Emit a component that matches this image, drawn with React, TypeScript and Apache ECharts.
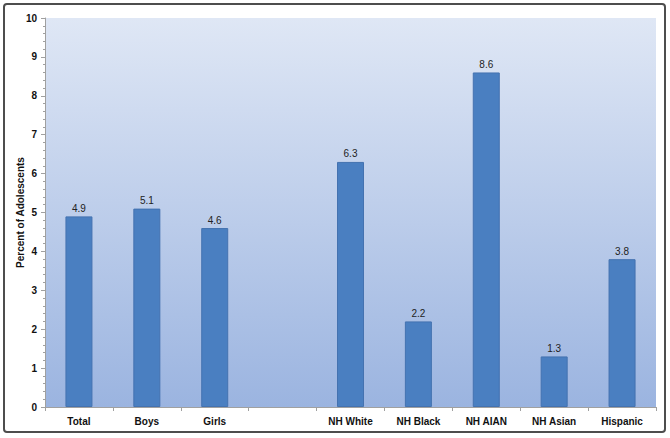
import React, { useEffect, useRef } from "react";
import * as echarts from "echarts";

const categories = ["Total", "Boys", "Girls", "", "NH White", "NH Black", "NH AIAN", "NH Asian", "Hispanic"];
const values: (number | null)[] = [4.9, 5.1, 4.6, null, 6.3, 2.2, 8.6, 1.3, 3.8];
const yTitle = "Percent of Adolescents";

export default function App() {
  const ref = useRef<HTMLDivElement>(null);
  useEffect(() => {
    document.body.style.margin = "0";
    const chart = echarts.init(ref.current!, undefined, { renderer: "svg" });
    chart.setOption({
      animation: false,
      backgroundColor: "#ffffff",
      graphic: [
        {
          type: "rect",
          shape: { x: 4, y: 4, width: 661, height: 428, r: 3 },
          style: { fill: "none", stroke: "#4d4d4d", lineWidth: 2 },
          z: 100,
        },
      ],
      grid: {
        left: 45,
        right: 14,
        top: 18,
        bottom: 31,
        show: true,
        borderWidth: 0,
        backgroundColor: new echarts.graphic.LinearGradient(0, 0, 0, 1, [
          { offset: 0, color: "#dfe7f5" },
          { offset: 1, color: "#9bb4e0" },
        ]),
      },
      xAxis: {
        type: "category",
        data: categories,
        axisLine: { lineStyle: { color: "#a0a0a0" } },
        axisTick: { show: true, length: 4, lineStyle: { color: "#a0a0a0" } },
        axisLabel: {
          color: "#111",
          fontWeight: "bold",
          fontSize: 10,
          fontFamily: "Liberation Sans, Arial, sans-serif",
          margin: 9,
        },
      },
      yAxis: {
        type: "value",
        min: 0,
        max: 10,
        interval: 1,
        name: yTitle,
        nameLocation: "middle",
        nameGap: 20,
        nameMoveOverlap: false,
        nameTextStyle: {
          color: "#111",
          fontWeight: "bold",
          fontSize: 10,
          fontFamily: "Liberation Sans, Arial, sans-serif",
        },
        axisLine: { show: true, lineStyle: { color: "#a0a0a0" } },
        axisTick: { show: true, length: 4, lineStyle: { color: "#a0a0a0" } },
        minorTick: { show: true, splitNumber: 5, length: 2, lineStyle: { color: "#a0a0a0" } },
        splitLine: { show: false },
        axisLabel: {
          color: "#111",
          fontWeight: "bold",
          fontSize: 10,
          fontFamily: "Liberation Sans, Arial, sans-serif",
          margin: 8,
        },
      },
      series: [
        {
          type: "bar",
          data: values,
          barWidth: 27,
          itemStyle: {
            color: "#4a7fc1",
            borderColor: "#4472b0",
            borderWidth: 1,
          },
          label: {
            show: true,
            position: "top",
            distance: 3,
            color: "#222",
            fontSize: 10,
            fontFamily: "Liberation Sans, Arial, sans-serif",
            formatter: (p: any) => (p.value == null ? "" : Number(p.value).toFixed(1)),
          },
        },
      ],
    });
    return () => chart.dispose();
  }, []);
  return <div ref={ref} style={{ width: 670, height: 438 }} />;
}
